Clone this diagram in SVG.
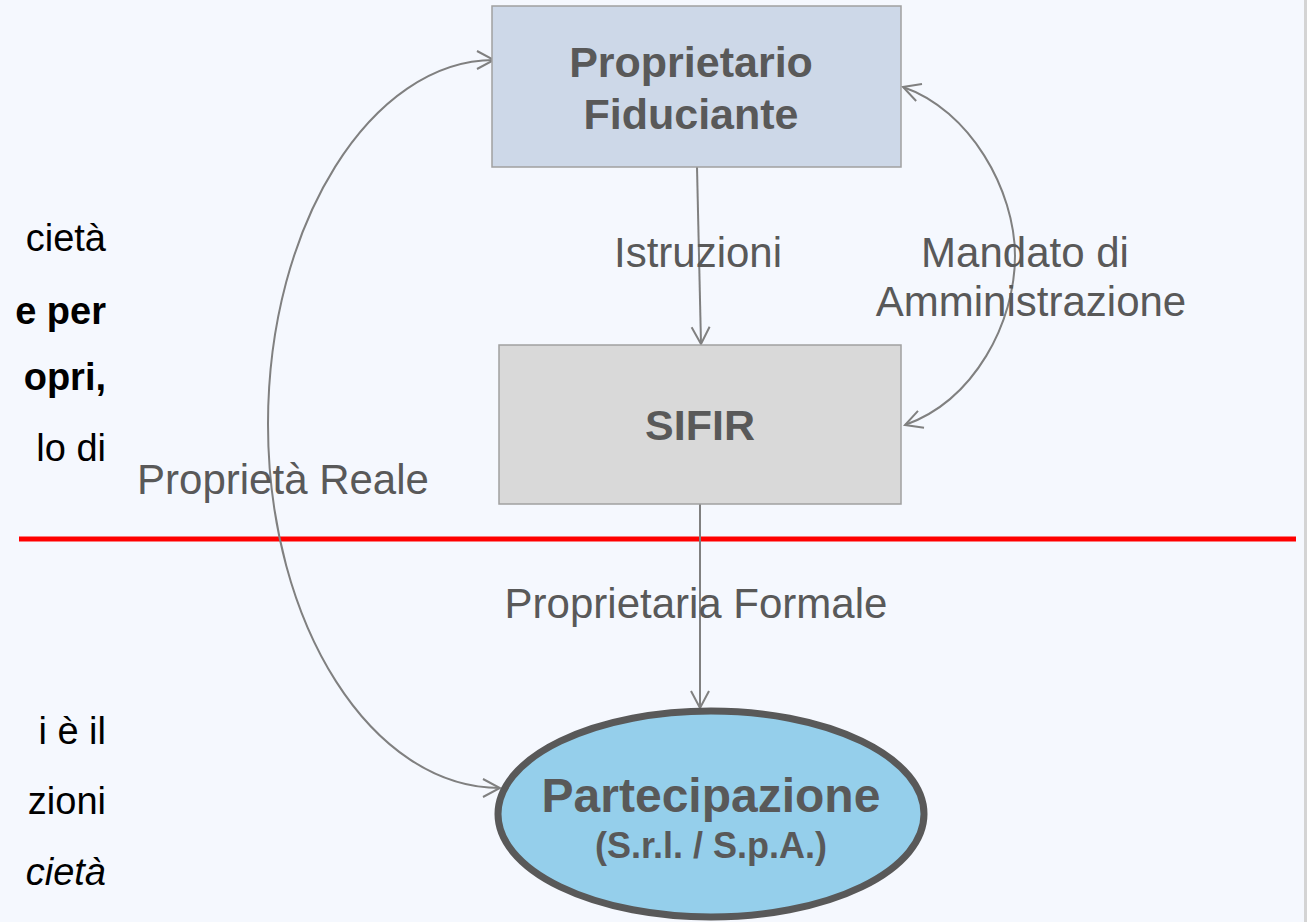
<svg xmlns="http://www.w3.org/2000/svg" width="1307" height="922" viewBox="0 0 1307 922">
<defs>
<style>
.lbl{font-family:"Liberation Sans",Arial,sans-serif;font-size:42px;fill:#595959;text-anchor:middle}
.nt{font-family:"Liberation Sans",Arial,sans-serif;font-weight:bold;fill:#595959;text-anchor:middle}
.side{font-family:"Liberation Sans",Arial,sans-serif;font-size:38px;fill:#000;text-anchor:end}
.conn{fill:none;stroke:#808080;stroke-width:2}
</style>
<marker id="arr" markerUnits="userSpaceOnUse" markerWidth="20" markerHeight="22" viewBox="0 0 20 22" refX="18" refY="10" orient="auto">
<path d="M1,1 L18,10 L1,19" fill="none" stroke="#808080" stroke-width="2"/>
</marker>
</defs>
<rect x="0" y="0" width="1307" height="922" fill="#f5f8fe"/>
<rect x="1304" y="0" width="3" height="922" fill="#d4d4d4"/>

<g id="side-text">
<text class="side" x="106" y="251">cietà</text>
<text class="side" x="106" y="324" font-weight="bold">e per</text>
<text class="side" x="106" y="390" font-weight="bold">opri,</text>
<text class="side" x="106" y="461">lo di</text>
<text class="side" x="106" y="744">i è il</text>
<text class="side" x="106" y="814">zioni</text>
<text class="side" x="106" y="885" font-style="italic">cietà</text>
</g>

<line id="separator" x1="19" y1="539" x2="1296" y2="539" stroke="#ff0000" stroke-width="5"/>

<g id="connectors">
<path class="conn" d="M697,167 L701,344" marker-end="url(#arr)"/>
<path class="conn" d="M700,504 L700,708" marker-end="url(#arr)"/>
<path class="conn" d="M268,424 C268,223 372,60 494,60" marker-end="url(#arr)"/>
<path class="conn" d="M268,424 C268,625 372,788 500,788" marker-end="url(#arr)"/>
<path class="conn" d="M1015,256 C1015,190 970,110 903,87" marker-end="url(#arr)"/>
<path class="conn" d="M1015,256 C1015,322 975,400 905,425" marker-end="url(#arr)"/>
<text class="lbl" x="698" y="267">Istruzioni</text>
<text class="lbl" x="1025" y="267">Mandato di</text>
<text class="lbl" x="1031" y="316">Amministrazione</text>
<text class="lbl" x="283" y="494">Proprietà Reale</text>
<text class="lbl" x="696" y="618">Proprietaria Formale</text>
</g>

<g id="node-proprietario">
<rect x="492" y="6" width="409" height="161" fill="#cdd8e8" stroke="#a0a0a0" stroke-width="1.5"/>
<text class="nt" x="691" y="77" font-size="43">Proprietario</text>
<text class="nt" x="691" y="129" font-size="43">Fiduciante</text>
</g>

<g id="node-sifir">
<rect x="499" y="345" width="402" height="159" fill="#d9d9d9" stroke="#a0a0a0" stroke-width="1.5"/>
<text class="nt" x="700" y="440" font-size="43">SIFIR</text>
</g>

<g id="node-partecipazione">
<ellipse cx="711" cy="814" rx="213" ry="103" fill="#95cfeb" stroke="#595959" stroke-width="7"/>
<text class="nt" x="711" y="812" font-size="48">Partecipazione</text>
<text class="nt" x="711" y="858" font-size="36">(S.r.l. / S.p.A.)</text>
</g>
</svg>
